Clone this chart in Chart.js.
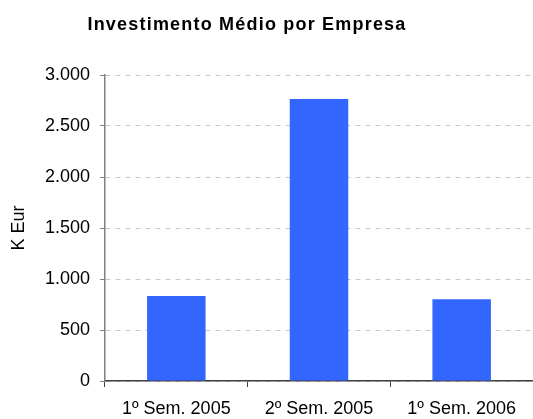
<!DOCTYPE html>
<html>
<head>
<meta charset="utf-8">
<script src="https://cdn.jsdelivr.net/npm/chart.js@4/dist/chart.umd.min.js"></script>
<style>
    html, body { margin: 0; padding: 0; background: #fff; }
    #wrap { width: 533px; height: 419px; }
</style>
</head>
<body>
<div id="wrap"><canvas id="chart" width="533" height="419"></canvas></div>
<script>
// dados do gráfico
var chartTitle = 'Investimento Médio por Empresa';
var categories = ['1º Sem. 2005', '2º Sem. 2005', '1º Sem. 2006'];
var investimento = [833, 2765, 801];
var yTicks = [0, 500, 1000, 1500, 2000, 2500, 3000];
var yAxisLabel = 'K Eur';

// formata 3000 -> "3.000"
function formatPt(value) {
    return value.toString().replace(/\B(?=(\d{3})+(?!\d))/g, '.');
}

// título desenhado à mão para ficar na mesma posição do original
var titlePlugin = {
    id: 'titlePlugin',
    afterDraw: function (chart) {
        var ctx = chart.ctx;
        ctx.save();
        ctx.font = 'bold 18px "Liberation Sans", Arial, sans-serif';
        ctx.letterSpacing = '1.2px';
        ctx.fillStyle = '#000';
        ctx.textAlign = 'center';
        ctx.textBaseline = 'alphabetic';
        ctx.fillText(chartTitle, 247, 30);
        ctx.restore();
    }
};

var ctx = document.getElementById('chart').getContext('2d');
new Chart(ctx, {
    type: 'bar',
    data: {
        labels: categories,
        datasets: [{
            label: yAxisLabel,
            data: investimento,
            backgroundColor: '#3366FF',
            borderWidth: 0,
            categoryPercentage: 1,
            barPercentage: 0.41
        }]
    },
    options: {
        responsive: false,
        animation: false,
        layout: { padding: { top: 75, right: 0, bottom: 0, left: 0 } },
        plugins: {
            legend: { display: false },
            tooltip: { enabled: false }
        },
        scales: {
            x: {
                afterFit: function (scale) { scale.height = 38; },
                grid: {
                    drawOnChartArea: false,
                    offset: true,
                    tickLength: 6,
                    color: '#404040'
                },
                border: { color: '#404040', width: 1.5 },
                ticks: {
                    color: '#000',
                    padding: 11,
                    maxRotation: 0,
                    font: { family: '"Liberation Sans", Arial, sans-serif', size: 18 }
                }
            },
            y: {
                min: 0,
                max: 3000,
                afterFit: function (scale) { scale.width = 105; },
                afterBuildTicks: function (scale) {
                    scale.ticks = yTicks.map(function (v) { return { value: v }; });
                },
                title: {
                    display: true,
                    text: yAxisLabel,
                    color: '#000',
                    padding: { top: 8, bottom: 8 },
                    font: { family: '"Liberation Sans", Arial, sans-serif', size: 18 }
                },
                grid: {
                    color: '#c8c8c8',
                    tickLength: 5,
                    tickColor: '#808080',
                    tickBorderDash: []
                },
                border: { color: '#808080', width: 1.5, dash: [5, 5] },
                ticks: {
                    color: '#000',
                    padding: 10,
                    callback: function (value) { return formatPt(value); },
                    font: { family: '"Liberation Sans", Arial, sans-serif', size: 18 }
                }
            }
        }
    },
    plugins: [titlePlugin]
});
</script>
</body>
</html>
